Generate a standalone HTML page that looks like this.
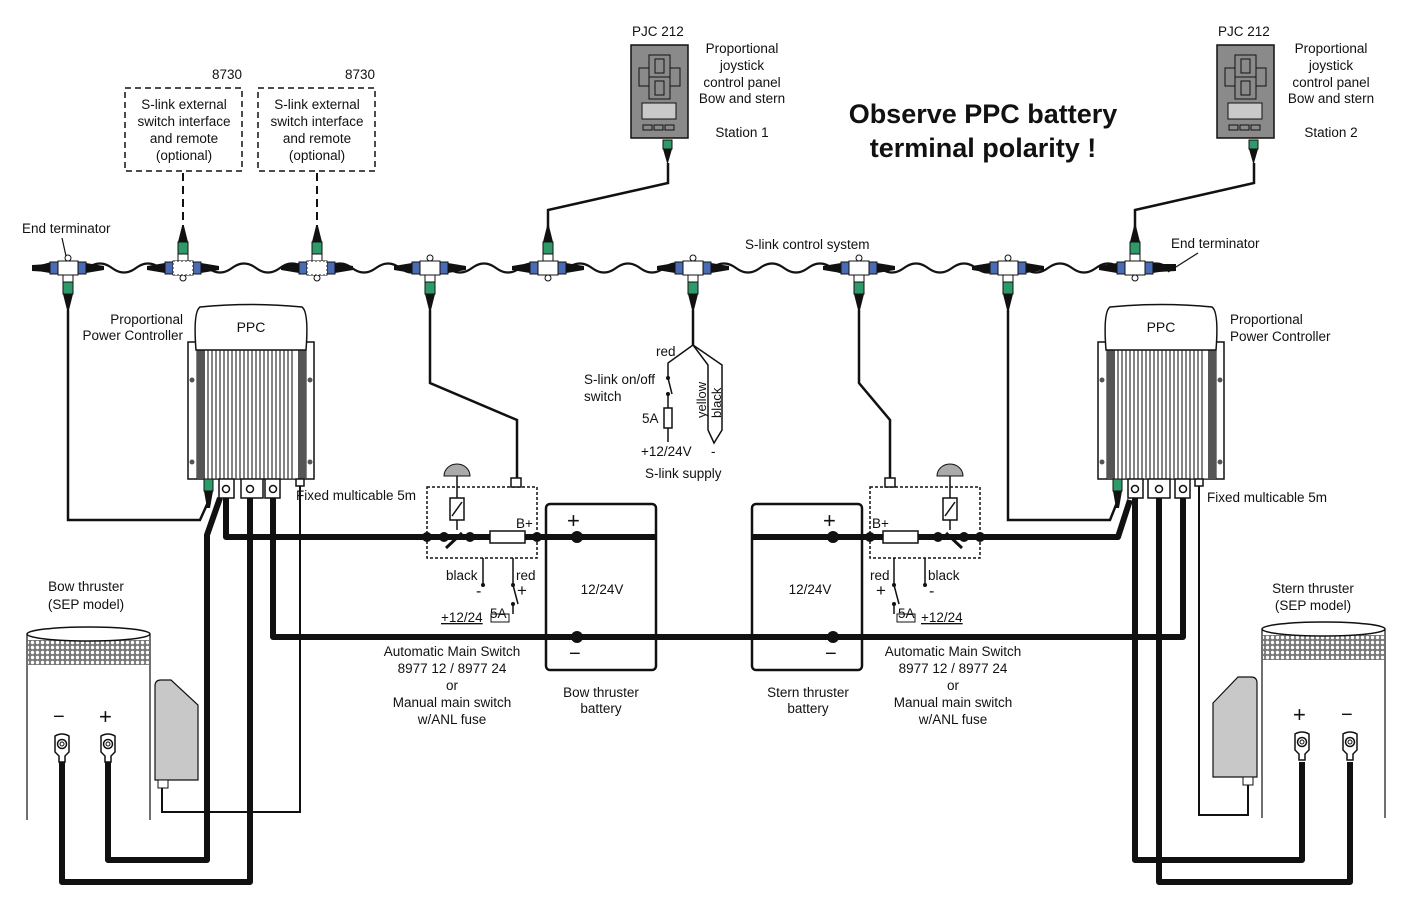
<!DOCTYPE html>
<html><head><meta charset="utf-8"><style>
html,body{margin:0;padding:0;background:#fff}
svg{display:block;font-family:"Liberation Sans",Arial,sans-serif;font-size:13.5px}
text{fill:#111}
</style></head><body>
<svg width="1410" height="901" viewBox="0 0 1410 901" xmlns="http://www.w3.org/2000/svg">
<defs>
<g id="tee">
 <path d="M-18,-5 L-36,-2 L-36,2 L-18,5 Z" fill="#111"/>
 <path d="M18,-5 L36,-2 L36,2 L18,5 Z" fill="#111"/>
 <rect x="-18" y="-6" width="8" height="12" fill="#4a6cb3" stroke="#111" stroke-width="1"/>
 <rect x="10" y="-6" width="8" height="12" fill="#4a6cb3" stroke="#111" stroke-width="1"/>
 <rect x="-10" y="-7" width="20" height="14" fill="#fff" stroke="#111" stroke-width="1"/>
</g>
<g id="tdown">
 <use href="#tee"/>
 <circle cx="0" cy="-10" r="3" fill="#fff" stroke="#111"/>
 <rect x="-5" y="7" width="10" height="7" fill="#fff" stroke="#111"/>
 <rect x="-5" y="14" width="10" height="12" fill="#2e9a6a" stroke="#111"/>
 <path d="M-5,26 L5,26 L1,42 L-1,42 Z" fill="#111"/>
</g>
<g id="tup">
 <use href="#tee"/>
 <circle cx="0" cy="10" r="3" fill="#fff" stroke="#111"/>
 <rect x="-5" y="-14" width="10" height="7" fill="#fff" stroke="#111"/>
 <rect x="-5" y="-26" width="10" height="12" fill="#2e9a6a" stroke="#111"/>
 <path d="M-5,-26 L5,-26 L1,-42 L-1,-42 Z" fill="#111"/>
</g>
<pattern id="mesh" width="5" height="5" patternUnits="userSpaceOnUse">
 <rect width="5" height="5" fill="#777"/><circle cx="2.5" cy="2.5" r="1.7" fill="#fff"/>
</pattern>
<g id="lug">
 <path d="M-7,-12 Q0,-16 7,-12 L7,4 L3,8 L3,14 L-3,14 L-3,8 L-7,4 Z" fill="#fff" stroke="#111" stroke-width="1.5"/>
 <circle cx="0" cy="-4" r="4.5" fill="#fff" stroke="#111" stroke-width="1.5"/>
 <circle cx="0" cy="-4" r="2" fill="#fff" stroke="#111"/>
</g>
<g id="joy">
 <rect x="0" y="0" width="57" height="93" fill="#8a8a8a" stroke="#111" stroke-width="1.5"/>
 <rect x="18" y="10" width="21" height="22" fill="#8a8a8a" stroke="#111"/>
 <rect x="24" y="14" width="9" height="14" fill="#8a8a8a" stroke="#111"/>
 <rect x="18" y="32" width="21" height="22" fill="#8a8a8a" stroke="#111"/>
 <rect x="24" y="36" width="9" height="14" fill="#8a8a8a" stroke="#111"/>
 <rect x="8" y="23" width="10" height="18" fill="#8a8a8a" stroke="#111"/>
 <rect x="39" y="23" width="10" height="18" fill="#8a8a8a" stroke="#111"/>
 <rect x="11" y="58" width="34" height="16" fill="#c9c9c9" stroke="#111"/>
 <rect x="12" y="80" width="9" height="5" fill="#8a8a8a" stroke="#111"/>
 <rect x="23" y="80" width="9" height="5" fill="#8a8a8a" stroke="#111"/>
 <rect x="34" y="80" width="9" height="5" fill="#8a8a8a" stroke="#111"/>
 <rect x="32" y="95" width="9" height="9" fill="#2e9a6a" stroke="#111"/>
 <path d="M32,104 L41,104 L37,118 L36,118 Z" fill="#111"/>
</g>
<g id="ppc">
 <rect x="0" y="40" width="126" height="137" fill="#fff" stroke="#111" stroke-width="1.5"/>
 <rect x="9" y="44" width="109" height="133" fill="#fff" stroke="#111"/>
 <rect x="9" y="44" width="8" height="133" fill="#555"/>
 <rect x="110" y="44" width="8" height="133" fill="#555"/>
 <path d="M20,44V177M24,44V177M28,44V177M32,44V177M36,44V177M40,44V177M44,44V177M48,44V177M52,44V177M56,44V177M60,44V177M64,44V177M68,44V177M72,44V177M76,44V177M80,44V177M84,44V177M88,44V177M92,44V177M96,44V177M100,44V177M104,44V177" stroke="#333" stroke-width="1.2"/>
 <path d="M8,48 Q5,10 12,5 Q63,0 114,5 Q121,10 118,48 Z" fill="#fff" stroke="#111" stroke-width="1.5"/>
 <circle cx="4" cy="78" r="2.5" fill="#555"/><circle cx="122" cy="78" r="2.5" fill="#555"/>
 <circle cx="4" cy="160" r="2.5" fill="#555"/><circle cx="122" cy="160" r="2.5" fill="#555"/>
 <text x="63" y="30" text-anchor="middle" font-size="14">PPC</text>
</g>
</defs>

<!-- thrusters (drawn first so cables overlay) -->
<g>
<rect x="27" y="633" width="123" height="190" fill="#fff"/>
<rect x="28" y="640" width="121" height="25" fill="url(#mesh)"/>
<ellipse cx="88.5" cy="634" rx="61.5" ry="7" fill="#fff" stroke="#111" stroke-width="1.5"/>
<path d="M27,634V820M150,634V820" stroke="#111" stroke-width="1.2"/>
<text x="53" y="723" font-size="20">−</text><text x="99" y="724" font-size="22">+</text>
<path d="M155,686 Q155,680 161,680 H171 L198,705 V780 H155 Z" fill="#c8c8c8" stroke="#111" stroke-width="1.2"/>
<rect x="158" y="780" width="10" height="8" fill="#fff" stroke="#111"/>
<text x="86" y="591" text-anchor="middle">Bow thruster</text>
<text x="86" y="609" text-anchor="middle">(SEP model)</text>
</g>
<g>
<rect x="1262" y="628" width="123" height="190" fill="#fff"/>
<rect x="1263" y="635" width="121" height="25" fill="url(#mesh)"/>
<ellipse cx="1323.5" cy="629" rx="61.5" ry="7" fill="#fff" stroke="#111" stroke-width="1.5"/>
<path d="M1262,629V818M1385,629V818" stroke="#111" stroke-width="1.2"/>
<text x="1293" y="722" font-size="22">+</text><text x="1341" y="721" font-size="20">−</text>
<path d="M1213,703 L1238,677 H1251 Q1257,677 1257,683 V777 H1213 Z" fill="#c8c8c8" stroke="#111" stroke-width="1.2"/>
<rect x="1243" y="777" width="10" height="8" fill="#fff" stroke="#111"/>
<text x="1313" y="593" text-anchor="middle">Stern thruster</text>
<text x="1313" y="610" text-anchor="middle">(SEP model)</text>
</g>

<!-- Backbone wave -->
<path d="M40,268 q12,-9 24,0 t24,0 t24,0 t24,0 t24,0 t24,0 t24,0 t24,0 t24,0 t24,0 t24,0 t24,0 t24,0 t24,0 t24,0 t24,0 t24,0 t24,0 t24,0 t24,0 t24,0 t24,0 t24,0 t24,0 t24,0 t24,0 t24,0 t24,0 t24,0 t24,0 t24,0 t24,0 t24,0 t24,0 t24,0 t24,0 t24,0 t24,0 t24,0 t24,0 t24,0 t24,0 t24,0 t24,0 t24,0 t24,0 t24,0 t24,0" fill="none" stroke="#111" stroke-width="2.2"/>
<rect x="28" y="255" width="14" height="25" fill="#fff"/>
<rect x="1168" y="255" width="40" height="25" fill="#fff"/>
<path d="M32,265 L50,264 L50,272 L32,271 Z" fill="#111"/>
<path d="M1176,264 L1158,264 L1158,272 L1176,271 Z" fill="#111"/>

<!-- Tees -->
<use href="#tdown" x="68" y="268"/>
<use href="#tup" x="183" y="268"/>
<rect x="173" y="261" width="20" height="14" fill="#fff" stroke="#111" stroke-dasharray="2,2"/>
<use href="#tup" x="317" y="268"/>
<rect x="307" y="261" width="20" height="14" fill="#fff" stroke="#111" stroke-dasharray="2,2"/>
<use href="#tdown" x="430" y="268"/>
<use href="#tup" x="548" y="268"/>
<use href="#tdown" x="693" y="268"/>
<use href="#tdown" x="859" y="268"/>
<use href="#tdown" x="1008" y="268"/>
<use href="#tup" x="1135" y="268"/>

<!-- dashed boxes -->
<rect x="125" y="88" width="117" height="83" fill="none" stroke="#111" stroke-width="1.5" stroke-dasharray="6,4"/>
<rect x="258" y="88" width="117" height="83" fill="none" stroke="#111" stroke-width="1.5" stroke-dasharray="6,4"/>
<path d="M183,173V226M317,173V226" stroke="#111" stroke-width="2" stroke-dasharray="8,5"/>
<text x="242" y="79" text-anchor="end">8730</text>
<text x="375" y="79" text-anchor="end">8730</text>
<text x="184" y="109" text-anchor="middle">S-link external</text>
<text x="184" y="126" text-anchor="middle">switch interface</text>
<text x="184" y="143" text-anchor="middle">and remote</text>
<text x="184" y="160" text-anchor="middle">(optional)</text>
<text x="317" y="109" text-anchor="middle">S-link external</text>
<text x="317" y="126" text-anchor="middle">switch interface</text>
<text x="317" y="143" text-anchor="middle">and remote</text>
<text x="317" y="160" text-anchor="middle">(optional)</text>

<text x="22" y="233">End terminator</text>
<path d="M62,238 L66,256" stroke="#111" stroke-width="1.2"/>
<text x="1171" y="248">End terminator</text>
<path d="M1198,253 L1168,272" stroke="#111" stroke-width="1.2"/>
<text x="745" y="249">S-link control system</text>

<!-- joysticks -->
<use href="#joy" x="631" y="45"/>
<use href="#joy" x="1217" y="45"/>
<path d="M668,163 V183 L548,210 V228" fill="none" stroke="#111" stroke-width="2.5"/>
<path d="M1254,163 V183 L1135,210 V228" fill="none" stroke="#111" stroke-width="2.5"/>
<text x="632" y="36">PJC 212</text>
<text x="1218" y="36">PJC 212</text>
<g text-anchor="middle">
<text x="742" y="53">Proportional</text><text x="742" y="70">joystick</text><text x="742" y="87">control panel</text><text x="742" y="103">Bow and stern</text><text x="742" y="137">Station 1</text>
<text x="1331" y="53">Proportional</text><text x="1331" y="70">joystick</text><text x="1331" y="87">control panel</text><text x="1331" y="103">Bow and stern</text><text x="1331" y="137">Station 2</text>
<text x="983" y="123" font-size="27" font-weight="bold">Observe PPC battery</text>
<text x="983" y="157" font-size="27" font-weight="bold">terminal polarity !</text>
</g>

<!-- PPCs -->
<use href="#ppc" x="188" y="302"/>
<use href="#ppc" x="1098" y="302"/>
<text x="183" y="324" text-anchor="end">Proportional</text>
<text x="183" y="340" text-anchor="end">Power Controller</text>
<text x="1230" y="324">Proportional</text>
<text x="1230" y="341">Power Controller</text>

<!-- thin signal cables -->
<g fill="none" stroke="#111" stroke-width="2.5">
<path d="M68,310 V520 H200 L209,500"/>
<path d="M430,310 V383 L517,420 V478"/>
<path d="M859,310 V383 L890,420 V478"/>
<path d="M1008,310 V520 H1110 L1118,500"/>
<path d="M693,310 V345"/>
</g>
<g fill="none" stroke="#111" stroke-width="2">
<path d="M300,486 V812 H162 V788"/>
<path d="M1199,486 V815 H1248 V785"/>
</g>

<!-- thick power cables -->
<g fill="none" stroke="#111" stroke-width="6" stroke-linejoin="round">
<path d="M226,498 V537 H580"/>
<path d="M220,498 L207,535 V860 H108 V762"/>
<path d="M250,498 V882 H62 V762"/>
<path d="M273,498 V637 H1183 V498"/>
<path d="M833,537 H1118 L1130,500"/>
<path d="M1135,498 V860 H1302 V762"/>
<path d="M1159,498 V882 H1350 V762"/>
</g>
<use href="#lug" x="62" y="748"/><use href="#lug" x="108" y="748"/>
<use href="#lug" x="1302" y="746"/><use href="#lug" x="1350" y="746"/>

<!-- PPC terminals -->
<g stroke="#111" stroke-width="1.5" fill="#fff">
<rect x="219" y="479" width="15" height="19"/><rect x="241" y="479" width="22" height="19"/><rect x="265" y="479" width="15" height="19"/>
<rect x="296" y="479" width="8" height="7"/>
<rect x="1128" y="479" width="15" height="19"/><rect x="1148" y="479" width="22" height="19"/><rect x="1175" y="479" width="15" height="19"/>
<rect x="1195" y="479" width="8" height="7"/>
</g>
<g fill="#fff" stroke="#111" stroke-width="1.5">
<circle cx="226" cy="489" r="3.5"/><circle cx="250" cy="489" r="3.5"/><circle cx="273" cy="489" r="3.5"/>
<circle cx="1135" cy="489" r="3.5"/><circle cx="1159" cy="489" r="3.5"/><circle cx="1183" cy="489" r="3.5"/>
</g>
<rect x="204" y="479" width="9" height="12" fill="#2e9a6a" stroke="#111"/>
<path d="M204,491 L213,491 L210,508 L207,508 Z" fill="#111"/>
<rect x="1113" y="479" width="9" height="12" fill="#2e9a6a" stroke="#111"/>
<path d="M1113,491 L1122,491 L1119,508 L1116,508 Z" fill="#111"/>
<text x="296" y="500">Fixed multicable 5m</text>
<text x="1207" y="502">Fixed multicable 5m</text>

<!-- batteries -->
<rect x="546" y="504" width="110" height="166" rx="4" fill="none" stroke="#111" stroke-width="2.5"/>
<rect x="752" y="504" width="110" height="166" rx="4" fill="none" stroke="#111" stroke-width="2.5"/>
<path d="M546,537H656M546,637H656M752,537H862M752,637H862" stroke="#111" stroke-width="6"/>
<g fill="#111"><circle cx="577" cy="537" r="6"/><circle cx="577" cy="637" r="6"/><circle cx="833" cy="537" r="6"/><circle cx="833" cy="637" r="6"/></g>
<text x="567" y="528" font-size="22">+</text>
<text x="823" y="528" font-size="22">+</text>
<text x="569" y="660" font-size="20">−</text>
<text x="825" y="660" font-size="20">−</text>
<text x="602" y="594" text-anchor="middle">12/24V</text>
<text x="810" y="594" text-anchor="middle">12/24V</text>
<text x="601" y="697" text-anchor="middle">Bow thruster</text>
<text x="601" y="713" text-anchor="middle">battery</text>
<text x="808" y="697" text-anchor="middle">Stern thruster</text>
<text x="808" y="713" text-anchor="middle">battery</text>

<!-- switch left -->
<rect x="427" y="487" width="110" height="71" fill="none" stroke="#111" stroke-width="1.5" stroke-dasharray="3,2"/>
<rect x="511" y="478" width="10" height="9" fill="#fff" stroke="#111" stroke-width="1.5"/>
<path d="M444,476 A13,12 0 0 1 470,476 Z" fill="#aaa" stroke="#111"/>
<path d="M457,476V498M457,520V530" stroke="#111" stroke-width="1.5"/>
<rect x="450" y="498" width="14" height="22" fill="#fff" stroke="#111" stroke-width="1.5"/>
<path d="M452,516 L462,502" stroke="#111" stroke-width="1.5"/>
<path d="M446,548 L462,533" stroke="#111" stroke-width="3"/>
<rect x="490" y="531" width="35" height="12" fill="#fff" stroke="#111" stroke-width="1.5"/>
<g fill="#111"><circle cx="427" cy="537" r="5"/><circle cx="444" cy="537" r="5"/><circle cx="470" cy="537" r="5"/><circle cx="537" cy="537" r="5"/></g>
<text x="516" y="528">B+</text>
<path d="M483,558V585M513,558V585 M513,585 L518,604 M513,604V614" stroke="#111" stroke-width="1.5" fill="none"/>
<g fill="#111"><circle cx="483" cy="585" r="2"/><circle cx="513" cy="585" r="2"/><circle cx="513" cy="604" r="2"/></g>
<text x="446" y="580">black</text><text x="516" y="580">red</text>
<text x="476" y="596" font-size="16">-</text><text x="517" y="596" font-size="17">+</text>
<rect x="491" y="614" width="18" height="8" fill="#fff" stroke="#111"/>
<text x="441" y="622" text-decoration="underline">+12/24</text><text x="490" y="618">5A</text>
<text x="452" y="656" text-anchor="middle">Automatic Main Switch</text>
<text x="452" y="673" text-anchor="middle">8977 12 / 8977 24</text>
<text x="452" y="690" text-anchor="middle">or</text>
<text x="452" y="707" text-anchor="middle">Manual main switch</text>
<text x="452" y="724" text-anchor="middle">w/ANL fuse</text>

<!-- switch right -->
<rect x="870" y="487" width="110" height="71" fill="none" stroke="#111" stroke-width="1.5" stroke-dasharray="3,2"/>
<rect x="885" y="478" width="10" height="9" fill="#fff" stroke="#111" stroke-width="1.5"/>
<path d="M937,476 A13,12 0 0 1 963,476 Z" fill="#aaa" stroke="#111"/>
<path d="M950,476V498M950,520V530" stroke="#111" stroke-width="1.5"/>
<rect x="943" y="498" width="14" height="22" fill="#fff" stroke="#111" stroke-width="1.5"/>
<path d="M945,516 L955,502" stroke="#111" stroke-width="1.5"/>
<path d="M962,548 L946,533" stroke="#111" stroke-width="3"/>
<rect x="883" y="531" width="35" height="12" fill="#fff" stroke="#111" stroke-width="1.5"/>
<g fill="#111"><circle cx="870" cy="537" r="5"/><circle cx="938" cy="537" r="5"/><circle cx="964" cy="537" r="5"/><circle cx="980" cy="537" r="5"/></g>
<text x="872" y="528">B+</text>
<path d="M894,558V585M925,558V585 M894,585 L899,604 M894,604V614" stroke="#111" stroke-width="1.5" fill="none"/>
<g fill="#111"><circle cx="894" cy="585" r="2"/><circle cx="925" cy="585" r="2"/><circle cx="894" cy="604" r="2"/></g>
<text x="870" y="580">red</text><text x="928" y="580">black</text>
<text x="876" y="596" font-size="17">+</text><text x="929" y="596" font-size="16">-</text>
<rect x="897" y="614" width="18" height="8" fill="#fff" stroke="#111"/>
<text x="898" y="618">5A</text><text x="921" y="622" text-decoration="underline">+12/24</text>
<text x="953" y="656" text-anchor="middle">Automatic Main Switch</text>
<text x="953" y="673" text-anchor="middle">8977 12 / 8977 24</text>
<text x="953" y="690" text-anchor="middle">or</text>
<text x="953" y="707" text-anchor="middle">Manual main switch</text>
<text x="953" y="724" text-anchor="middle">w/ANL fuse</text>

<!-- S-link supply -->
<g fill="none" stroke="#111" stroke-width="1.5">
<path d="M693,345 L668,363 V378 M668,378 L672,394 M668,394 V408 M668,428V442"/>
<path d="M693,345 L708,365 V430 L714,443 L722,430 V365 Z"/>
</g>
<rect x="664" y="408" width="8" height="20" fill="#fff" stroke="#111" stroke-width="1.5"/>
<g fill="#111"><circle cx="668" cy="378" r="2"/><circle cx="668" cy="394" r="2"/></g>
<text x="656" y="356">red</text>
<text x="584" y="384">S-link on/off</text>
<text x="584" y="401">switch</text>
<text x="642" y="423">5A</text>
<text x="641" y="456">+12/24V</text><text x="711" y="456">-</text>
<text x="645" y="478">S-link supply</text>
<text transform="translate(706,418) rotate(-90)" font-size="13">yellow</text>
<text transform="translate(721,418) rotate(-90)" font-size="13">black</text>
</svg>
</body></html>
